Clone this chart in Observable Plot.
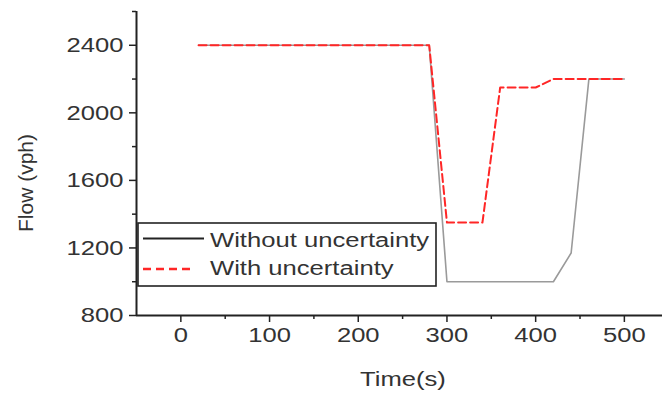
<!DOCTYPE html>
<html><head><meta charset="utf-8">
<script src="https://cdn.jsdelivr.net/npm/d3@7"></script>
<script src="https://cdn.jsdelivr.net/npm/@observablehq/plot@0.6"></script>
<style>
html,body{margin:0;padding:0;background:#fff;overflow:hidden}
#wrap{position:relative;width:662px;height:396px}
#wrap svg{position:absolute;left:0;top:0}
</style></head><body><div id="wrap"></div>
<script>
const seriesNames = ["Without uncertainty", "With uncertainty"];
const timeWithout = [20, 280, 300, 420, 440, 460, 500];
const flowWithout = [2400, 2400, 1000, 1000, 1170, 2200, 2200];
const timeWith = [20, 280, 300, 340, 360, 400, 420, 500];
const flowWith = [2400, 2400, 1350, 1350, 2150, 2150, 2200, 2200];
const xMajorTicks = [0, 100, 200, 300, 400, 500];
const xMinorTicks = [50, 150, 250, 350, 450];
const yMajorTicks = [800, 1200, 1600, 2000, 2400];
const yMinorTicks = [1000, 1400, 1800, 2200, 2600];
const xLabel = "Time(s)";
const yLabel = "Flow (vph)";

const rowsWithout = timeWithout.map((t, i) => ({series: seriesNames[0], time: t, flow: flowWithout[i]}));
const rowsWith = timeWith.map((t, i) => ({series: seriesNames[1], time: t, flow: flowWith[i]}));

const FONT = "'Liberation Sans', Arial, Helvetica, sans-serif";
const SX = 1.22;

const chart = Plot.plot({
  width: 662, height: 396,
  marginLeft: 136, marginRight: 0, marginTop: 11, marginBottom: 81,
  style: {fontFamily: FONT, fontSize: "21px", color: "#333", background: "transparent", overflow: "visible"},
  x: {domain: [-50, 543], label: null},
  y: {domain: [800, 2600], label: null},
  marks: [
    Plot.axisX(xMinorTicks, {tickSize: 4, tickFormat: () => "", stroke: "#222", strokeWidth: 1.5, label: null}),
    Plot.axisX(xMajorTicks, {tickSize: 7, tickPadding: 5, tickFormat: d => String(d), fontSize: 21, fill: "#333", stroke: "#222", strokeWidth: 1.5, label: null}),
    Plot.axisY(yMinorTicks, {tickSize: 4, tickFormat: () => "", stroke: "#222", strokeWidth: 1.5, label: null}),
    Plot.axisY(yMajorTicks, {tickSize: 7, tickPadding: 6, tickFormat: d => String(d), fontSize: 21, fill: "#333", stroke: "#222", strokeWidth: 1.5, label: null}),
    Plot.ruleX([-50], {stroke: "#222", strokeWidth: 2}),
    Plot.ruleY([800], {stroke: "#222", strokeWidth: 2}),
    Plot.line(rowsWithout, {x: "time", y: "flow", stroke: "#9a9a9a", strokeWidth: 1.6}),
    Plot.line(rowsWith, {x: "time", y: "flow", stroke: "#ff2626", strokeWidth: 2, strokeDasharray: "8,4"})
  ]
});
chart.querySelectorAll("text").forEach(t => {
  const tr = t.getAttribute("transform") || "";
  if (!tr.includes("rotate")) t.setAttribute("transform", tr + ` scale(${SX},1)`);
});
const wrap = document.getElementById("wrap");
wrap.appendChild(chart);

// overlay: axis titles and legend
const NS = "http://www.w3.org/2000/svg";
const ov = document.createElementNS(NS, "svg");
ov.setAttribute("width", 662); ov.setAttribute("height", 396);
ov.setAttribute("font-family", FONT);
function el(name, attrs, text) {
  const e = document.createElementNS(NS, name);
  for (const k in attrs) e.setAttribute(k, attrs[k]);
  if (text != null) e.textContent = text;
  ov.appendChild(e);
  return e;
}
el("text", {transform: `translate(403,386) scale(${SX},1)`, "text-anchor": "middle", "font-size": 21, fill: "#333"}, xLabel);
el("text", {transform: "translate(33,183) rotate(-90)", "text-anchor": "middle", "font-size": 21, fill: "#333"}, yLabel);
el("rect", {x: 138, y: 223, width: 298, height: 63, fill: "#fff", stroke: "#222", "stroke-width": 1.6});
el("line", {x1: 143, x2: 204, y1: 238.5, y2: 238.5, stroke: "#222", "stroke-width": 2});
el("line", {x1: 143, x2: 195, y1: 269, y2: 269, stroke: "#ff2626", "stroke-width": 2.4, "stroke-dasharray": "8,5"});
el("text", {transform: `translate(210,247) scale(${SX},1)`, "font-size": 21, fill: "#333"}, seriesNames[0]);
el("text", {transform: `translate(210,275) scale(${SX},1)`, "font-size": 21, fill: "#333"}, seriesNames[1]);
wrap.appendChild(ov);
</script></body></html>
